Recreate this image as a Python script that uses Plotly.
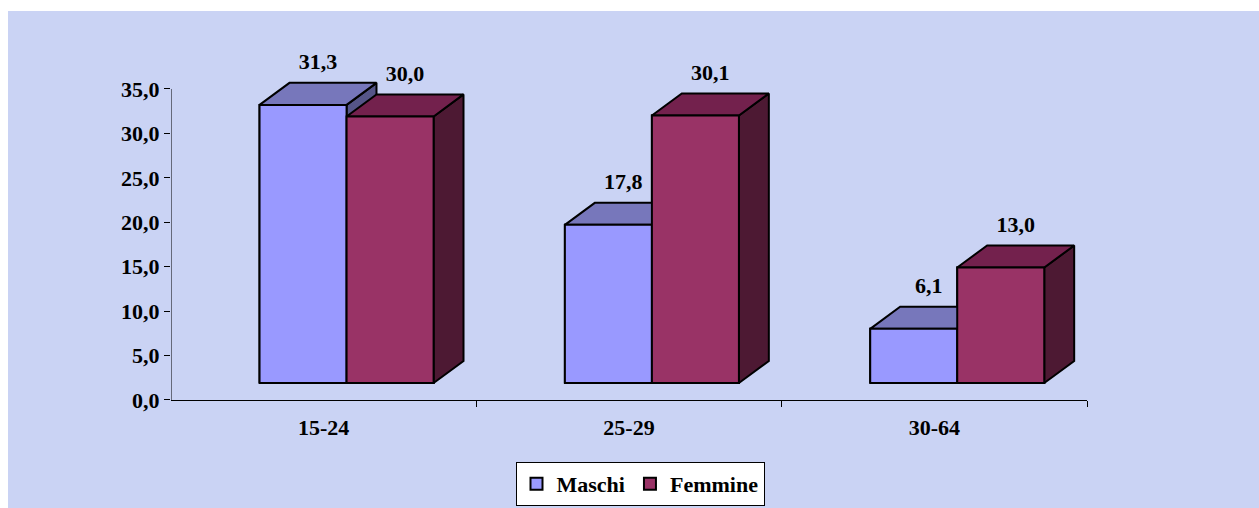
import plotly.graph_objects as go

# Data
categories = ["15-24", "25-29", "30-64"]
maschi = [31.3, 17.8, 6.1]
femmine = [30.0, 30.1, 13.0]
series_names = ["Maschi", "Femmine"]
y_ticks = [0, 5, 10, 15, 20, 25, 30, 35]

W, H = 1259, 508

# Pseudo-3D geometry (x in category units, y in value units)
BAR_W = 0.285        # width of a front face
LEFT_OFF = -0.21     # left edge of first bar relative to category centre
DX = 0.098           # horizontal depth shift
DY = 2.48            # vertical depth shift
LIFT = 1.91          # floor of the front faces above the axis line

Y_MAX = 35           # top of the drawn value axis
Y_ROOM = 41          # extra headroom so value labels stay inside the range

styles = {
    "Maschi": dict(front="#9999FF", top="#7777BB", side="#555588"),
    "Femmine": dict(front="#993366", top="#73214D", side="#4D1933"),
}

FONT = "Liberation Serif, Times New Roman, serif"

fig = go.Figure()

# Legend carriers (same geometry as the front faces, redrawn on top below)
for k, (name, vals) in enumerate(zip(series_names, [maschi, femmine])):
    fig.add_trace(go.Bar(
        x=[i + LEFT_OFF + k * BAR_W + BAR_W / 2 for i in range(len(categories))],
        y=vals, base=LIFT, width=BAR_W, name=name,
        marker=dict(color=styles[name]["front"], line=dict(color="black", width=2)),
        hoverinfo="skip",
    ))

# value axis line, stopping at the last tick
fig.add_trace(go.Scatter(
    x=[-0.5, -0.5], y=[0, Y_MAX], mode="lines",
    line=dict(color="black", width=1), showlegend=False, hoverinfo="skip",
    cliponaxis=False,
))


def poly(xs, ys, color):
    fig.add_trace(go.Scatter(
        x=xs + [xs[0]], y=ys + [ys[0]], mode="lines", fill="toself",
        fillcolor=color, line=dict(color="black", width=2),
        showlegend=False, hoverinfo="skip", cliponaxis=False,
    ))


label_x, label_y, label_txt = [], [], []
for i in range(len(categories)):
    for k, (name, vals) in enumerate(zip(series_names, [maschi, femmine])):
        v = vals[i]
        x0 = i + LEFT_OFF + k * BAR_W
        x1 = x0 + BAR_W
        yb, yt = LIFT, LIFT + v
        st = styles[name]
        # right side face
        poly([x1, x1 + DX, x1 + DX, x1], [yb, yb + DY, yt + DY, yt], st["side"])
        # top face
        poly([x0, x1, x1 + DX, x0 + DX], [yt, yt, yt + DY, yt + DY], st["top"])
        # front face
        poly([x0, x1, x1, x0], [yb, yb, yt, yt], st["front"])
        label_x.append((x0 + x1) / 2 + DX / 2)
        label_y.append(yt + DY + 0.9)
        label_txt.append(f"{v:.1f}".replace(".", ","))

# Value labels above each bar
fig.add_trace(go.Scatter(
    x=label_x, y=label_y, text=label_txt, mode="text",
    textposition="top center", cliponaxis=False,
    textfont=dict(family=FONT, size=22, color="black", weight="bold"),
    showlegend=False, hoverinfo="skip",
))

x_dom = [171 / W, 1087 / W]
px_per_unit = (400 - 89) / Y_MAX
y_dom = [(H - 400) / H, (H - 400 + Y_ROOM * px_per_unit) / H]

fig.update_layout(
    width=W, height=H, autosize=False,
    margin=dict(l=0, r=0, t=0, b=0, autoexpand=False),
    paper_bgcolor="white", plot_bgcolor="rgba(0,0,0,0)",
    separators=",.",
    barmode="overlay",
    font=dict(family=FONT, size=22, color="black", weight="bold"),
    xaxis=dict(
        domain=x_dom, range=[-0.5, len(categories) - 0.5],
        tickvals=[i + 0.5 for i in range(len(categories))],
        showticklabels=False, ticks="outside", ticklen=6, tickcolor="black",
        showline=True, linecolor="black", linewidth=1,
        showgrid=False, zeroline=False, fixedrange=True,
    ),
    xaxis2=dict(
        domain=x_dom, range=[-0.5, len(categories) - 0.5], overlaying="x",
        anchor="y", side="bottom",
        tickvals=list(range(len(categories))), ticktext=categories,
        ticks="outside", ticklen=8, tickcolor="rgba(0,0,0,0)",
        tickfont=dict(family=FONT, size=22, color="black", weight="bold"),
        showline=False, showgrid=False, zeroline=False,
    ),
    yaxis=dict(
        domain=y_dom, range=[0, Y_ROOM], tickvals=y_ticks, tickformat=".1f",
        ticks="outside", ticklen=6, tickcolor="black",
        tickfont=dict(family=FONT, size=22, color="black", weight="bold"),
        showline=False, showgrid=False, zeroline=False,
    ),
    legend=dict(
        orientation="h", x=640 / W, xanchor="center", y=(H - 506) / H, yanchor="bottom",
        bgcolor="white", bordercolor="black", borderwidth=1,
        font=dict(family=FONT, size=22, color="black", weight="bold"),
        itemwidth=30, tracegroupgap=0,
    ),
    shapes=[dict(
        type="rect", xref="paper", yref="paper", x0=8 / W, x1=1, y0=0, y1=(H - 11) / H,
        fillcolor="#cad3f4", line=dict(width=0), layer="below",
    )],
)

# a dummy trace binding xaxis2 so its labels render
fig.add_trace(go.Scatter(x=[None], y=[None], xaxis="x2", showlegend=False, hoverinfo="skip"))

fig.write_html("out.html")
